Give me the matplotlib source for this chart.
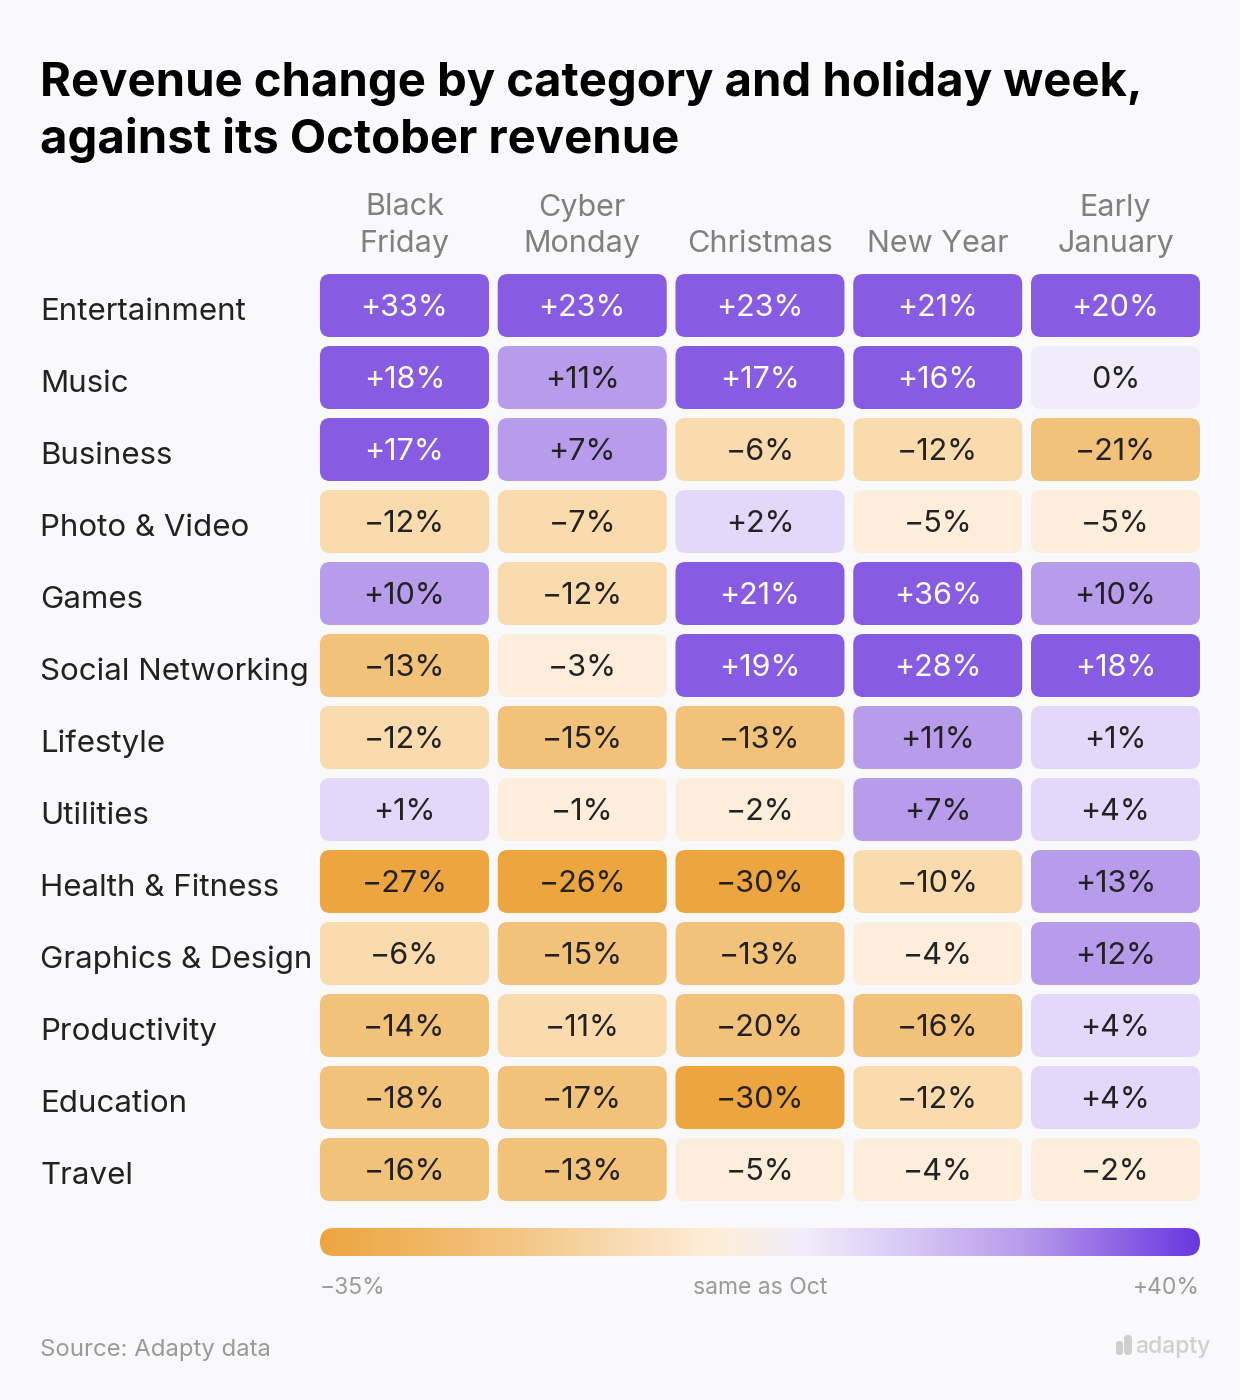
import numpy as np
import matplotlib.pyplot as plt
from matplotlib.patches import FancyBboxPatch
from matplotlib.colors import LinearSegmentedColormap
from matplotlib.transforms import blended_transform_factory

plt.rcParams['font.family'] = ['Inter', 'DejaVu Sans']

# ---- data ----
categories = ["Entertainment", "Music", "Business", "Photo & Video", "Games",
              "Social Networking", "Lifestyle", "Utilities", "Health & Fitness",
              "Graphics & Design", "Productivity", "Education", "Travel"]
weeks = ["Black\nFriday", "Cyber\nMonday", "Christmas", "New Year", "Early\nJanuary"]
changes = np.array([
    [33, 23, 23, 21, 20],
    [18, 11, 17, 16, 0],
    [17, 7, -6, -12, -21],
    [-12, -7, 2, -5, -5],
    [10, -12, 21, 36, 10],
    [-13, -3, 19, 28, 18],
    [-12, -15, -13, 11, 1],
    [1, -1, -2, 7, 4],
    [-27, -26, -30, -10, 13],
    [-6, -15, -13, -4, 12],
    [-14, -11, -20, -16, 4],
    [-18, -17, -30, -12, 4],
    [-16, -13, -5, -4, -2],
])
scale_min, scale_max = -35, 40

# ---- styles ----
BG = "#f9f9fb"
bin_edges = [-23.5, -12.5, -5.5, -0.5, 0.5, 5.5, 14.5]
bin_colors = ["#eda540", "#f2c27a", "#f9dbae", "#fdeedb",
              "#f1ecfa", "#e4d8fa", "#b89cec", "#875ce3"]
FONT = 22
W, H = 1240, 1400


def px_axes(fig, x0, y0, w, h):
    return fig.add_axes([x0 / W, 1 - (y0 + h) / H, w / W, h / H])


def fmt(v):
    if v == 0:
        return "0%"
    return ("+" if v > 0 else "\u2212") + f"{abs(v)}%"


fig = plt.figure(figsize=(W / 100, H / 100), dpi=100, facecolor=BG)

# title
fig.text(40 / W, 1 - 96 / H, "Revenue change by category and holiday week,",
         fontsize=34, fontweight="bold", color="#000000", va="baseline")
fig.text(40 / W, 1 - 153 / H, "against its October revenue",
         fontsize=34, fontweight="bold", color="#000000", va="baseline")

# heatmap grid
col_px, row_px = 177.75, 72.0
n_rows, n_cols = changes.shape
ax = px_axes(fig, 320 - 4.4, 274 - 4.5, col_px * n_cols, row_px * n_rows)
ax.set_xlim(-0.5, n_cols - 0.5)
ax.set_ylim(n_rows - 0.5, -0.5)
ax.axis("off")

cw, ch = 169 / col_px, 63 / row_px
rad = 10 / col_px
bins = np.digitize(changes, bin_edges)
for i in range(n_rows):
    for j in range(n_cols):
        b = bins[i, j]
        box = FancyBboxPatch((j - cw / 2, i - ch / 2), cw, ch,
                             boxstyle=f"round,pad=0,rounding_size={rad}",
                             mutation_aspect=col_px / row_px,
                             facecolor=bin_colors[b], edgecolor="none")
        ax.add_patch(box)
        tc = "white" if b == len(bin_colors) - 1 else "#222222"
        ax.text(j, i + 0.15, fmt(changes[i, j]), ha="center", va="baseline",
                fontsize=FONT, color=tc)

# column headers
for j, w in enumerate(weeks):
    ax.text(j, (252 - 269.5) / row_px - 0.5, w, ha="center", va="baseline",
            fontsize=FONT, color="#808080", linespacing=1.38)

# row labels
trans = blended_transform_factory(fig.transFigure, ax.transData)
for i, c in enumerate(categories):
    ax.text(40 / W, i + 0.2, c, transform=trans, ha="left", va="baseline",
            fontsize=22.5, color="#222222")

# colour scale bar
cax = px_axes(fig, 320, 1228, 880, 28)
cax.set_xlim(scale_min, scale_max)
cax.set_ylim(0, 1)
cax.axis("off")
cmap = LinearSegmentedColormap.from_list("rev", [
    (0.0, "#eda540"), (0.2, "#f3c27c"), (0.45, "#fdeedb"), (0.55, "#f1ecfa"),
    (0.66, "#dacbf6"), (0.8, "#b89cec"), (1.0, "#6b37df")])
grad = np.linspace(0, 1, 512)[None, :]
im = cax.imshow(grad, cmap=cmap, aspect="auto",
                extent=[scale_min, scale_max, 0, 1])
xr = 14 * (scale_max - scale_min) / 880
clip = FancyBboxPatch((scale_min, 0), scale_max - scale_min, 1,
                      boxstyle=f"round,pad=0,rounding_size={xr}",
                      mutation_aspect=0.5 / xr,
                      facecolor="none", edgecolor="none", transform=cax.transData)
cax.add_patch(clip)
im.set_clip_path(clip)

fig.text(320 / W, 1 - 1294 / H, fmt(scale_min), ha="left", va="baseline",
         fontsize=16.5, color="#9a9a9a")
fig.text(760 / W, 1 - 1294 / H, "same as Oct", ha="center", va="baseline",
         fontsize=16.5, color="#9a9a9a")
fig.text(1200 / W, 1 - 1294 / H, fmt(scale_max), ha="right", va="baseline",
         fontsize=16.5, color="#9a9a9a")

# footer
fig.text(40 / W, 1 - 1356 / H, "Source: Adapty data", ha="left", va="baseline",
         fontsize=17.2, color="#9a9a9a")
fig.text(1210 / W, 1 - 1353 / H, "adapty", ha="right", va="baseline",
         fontsize=16.5, color="#cfcfcf", fontweight="medium")
lax = px_axes(fig, 1116, 1335, 18, 20)
lax.set_xlim(0, 18)
lax.set_ylim(0, 20)
lax.axis("off")
lax.add_patch(FancyBboxPatch((0, 0), 7, 14, boxstyle="round,pad=0,rounding_size=3.5",
                             facecolor="#cfcfcf", edgecolor="none"))
lax.add_patch(FancyBboxPatch((8, 0), 8, 20, boxstyle="round,pad=0,rounding_size=4",
                             facecolor="#cfcfcf", edgecolor="none"))

fig.savefig("out.png", dpi=100, facecolor=BG)
